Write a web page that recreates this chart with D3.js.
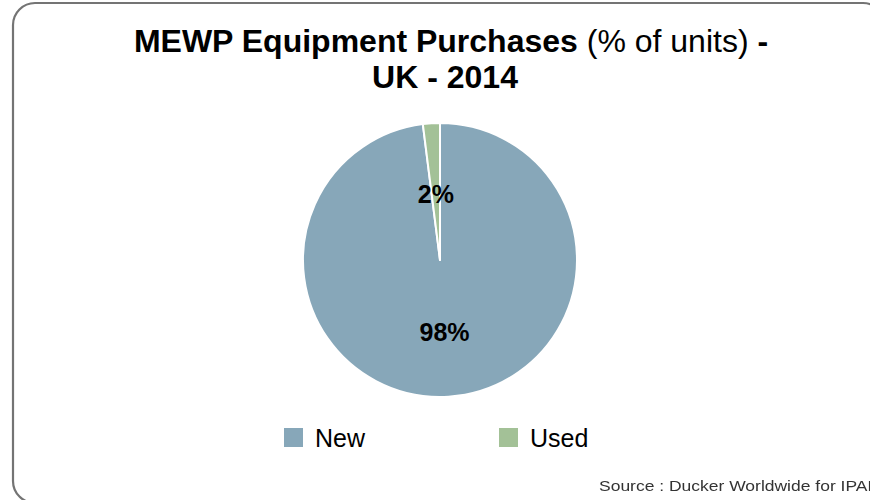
<!DOCTYPE html>
<html>
<head>
<meta charset="utf-8">
<script src="https://cdn.jsdelivr.net/npm/d3@7"></script>
<style>
  html, body { margin: 0; padding: 0; background: #fff; }
  svg { display: block; font-family: "Liberation Sans", Arial, sans-serif; }
</style>
</head>
<body>
<svg id="chart" width="870" height="500"></svg>
<script>
// Purchase share by equipment condition
const categories = ["New", "Used"];
const shares = [98, 2];
const colors = ["#87a7b9", "#a3c197"];
const pctLabels = ["98%", "2%"];

const svg = d3.select("#chart");

// Rounded frame (runs off the right and bottom edges)
svg.append("rect")
  .attr("x", 13).attr("y", 3)
  .attr("width", 872).attr("height", 500)
  .attr("rx", 22).attr("ry", 22)
  .attr("fill", "#fff")
  .attr("stroke", "#747474")
  .attr("stroke-width", 2.2);

// Title
const title = svg.append("text")
  .attr("x", 451).attr("y", 52)
  .attr("text-anchor", "middle")
  .attr("font-size", 32)
  .attr("fill", "#000");
title.append("tspan").attr("font-weight", "bold").text("MEWP Equipment Purchases ");
title.append("tspan").text("(% of units) ");
title.append("tspan").attr("font-weight", "bold").text(" -");

svg.append("text")
  .attr("x", 445).attr("y", 88)
  .attr("text-anchor", "middle")
  .attr("font-size", 32)
  .attr("font-weight", "bold")
  .attr("fill", "#000")
  .text("UK - 2014");

// Pie
const cx = 440, cy = 260, r = 137;
const data = categories.map((c, i) => ({ name: c, value: shares[i], color: colors[i], label: pctLabels[i] }));
const pie = d3.pie().value(d => d.value).sort(null);
const arc = d3.arc().innerRadius(0).outerRadius(r);
const arcs = pie(data);

const g = svg.append("g").attr("transform", `translate(${cx},${cy})`);
g.selectAll("path")
  .data(arcs)
  .join("path")
  .attr("d", arc)
  .attr("fill", d => d.data.color)
  .attr("stroke", "#fff")
  .attr("stroke-width", 2)
  .attr("stroke-linejoin", "round");

// Value labels placed along each slice's mid-angle
const labelRadius = [r * 0.53, r * 0.48];
g.selectAll("text.val")
  .data(arcs)
  .join("text")
  .attr("class", "val")
  .attr("transform", (d, i) => {
    const a = (d.startAngle + d.endAngle) / 2;
    const x = Math.sin(a) * labelRadius[i];
    const y = -Math.cos(a) * labelRadius[i];
    return `translate(${x},${y})`;
  })
  .attr("text-anchor", "middle")
  .attr("dy", "0.36em")
  .attr("font-size", 25)
  .attr("font-weight", "bold")
  .attr("fill", "#000")
  .text(d => d.data.label);

// Legend
const legendX = d3.scalePoint().domain(categories).range([284, 499]);
const item = svg.append("g").selectAll("g")
  .data(data)
  .join("g")
  .attr("transform", d => `translate(${legendX(d.name)},428)`);
item.append("rect")
  .attr("width", 19).attr("height", 19)
  .attr("fill", d => d.color);
item.append("text")
  .attr("x", 31).attr("y", 19)
  .attr("font-size", 25)
  .attr("fill", "#000")
  .text(d => d.name);

// Source note (runs off the right edge)
svg.append("g").attr("transform", "translate(599,491) scale(1.25,1)")
  .append("text")
  .attr("font-size", 14)
  .attr("fill", "#333")
  .style("filter", "blur(0.5px)")
  .text("Source : Ducker Worldwide for IPAF");
</script>
</body>
</html>
